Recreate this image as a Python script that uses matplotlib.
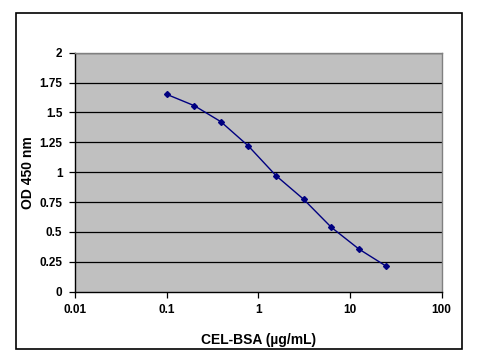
import matplotlib
matplotlib.use('Agg')
import matplotlib.pyplot as plt
from matplotlib.patches import Rectangle
from matplotlib.ticker import FixedLocator, NullLocator

# CEL-BSA concentration (ug/mL) vs OD 450 nm
conc = [0.1, 0.2, 0.39, 0.78, 1.56, 3.125, 6.25, 12.5, 25]
od450 = [1.652, 1.557, 1.423, 1.219, 0.971, 0.773, 0.539, 0.357, 0.212]

x_ticks = [0.01, 0.1, 1, 10, 100]
x_tick_labels = ['0.01', '0.1', '1', '10', '100']
y_ticks = [0, 0.25, 0.5, 0.75, 1, 1.25, 1.5, 1.75, 2]
y_tick_labels = ['0', '0.25', '0.5', '0.75', '1', '1.25', '1.5', '1.75', '2']

plt.rcParams['font.family'] = ['Liberation Sans', 'DejaVu Sans']

fig = plt.figure(figsize=(4.86, 3.54), dpi=100)
fig.patch.set_facecolor('white')

# outer chart border
fig.patches.append(Rectangle((0.032, 0.014), 0.919, 0.948, transform=fig.transFigure,
                             fill=False, edgecolor='black', linewidth=1.2, zorder=0))

ax = fig.add_axes([0.1543, 0.176, 0.7545, 0.675])
ax.set_facecolor('#C0C0C0')
ax.set_xscale('log')
ax.set_xlim(0.01, 100)
ax.set_ylim(0, 2)

for y in y_ticks[1:]:
    ax.axhline(y, color='black', linewidth=0.9, zorder=1)

ax.plot(conc, od450, color='#000080', linewidth=1.0, marker='D', markersize=3,
        markerfacecolor='#000080', markeredgecolor='#000080', zorder=3)

ax.xaxis.set_major_locator(FixedLocator(x_ticks))
ax.xaxis.set_minor_locator(NullLocator())
ax.set_xticklabels(x_tick_labels)
ax.set_yticks(y_ticks)
ax.set_yticklabels(y_tick_labels)
ax.tick_params(direction='out', length=4, width=0.9, colors='black', labelsize=8.5, pad=5)
for lab in ax.get_xticklabels() + ax.get_yticklabels():
    lab.set_fontweight('bold')

ax.spines['left'].set_color('black')
ax.spines['bottom'].set_color('black')
ax.spines['top'].set_color('#808080')
ax.spines['right'].set_color('#808080')
for s in ax.spines.values():
    s.set_linewidth(1.0)

ax.set_xlabel('CEL-BSA (µg/mL)', fontsize=10, fontweight='bold')
ax.set_ylabel('OD 450 nm', fontsize=10, fontweight='bold')
ax.xaxis.set_label_coords(0.5, -0.202)
ax.yaxis.set_label_coords(-0.128, 0.5)
ax.xaxis.label.set_va('center')
ax.yaxis.label.set_va('center')

fig.savefig('out.png', dpi=100)
